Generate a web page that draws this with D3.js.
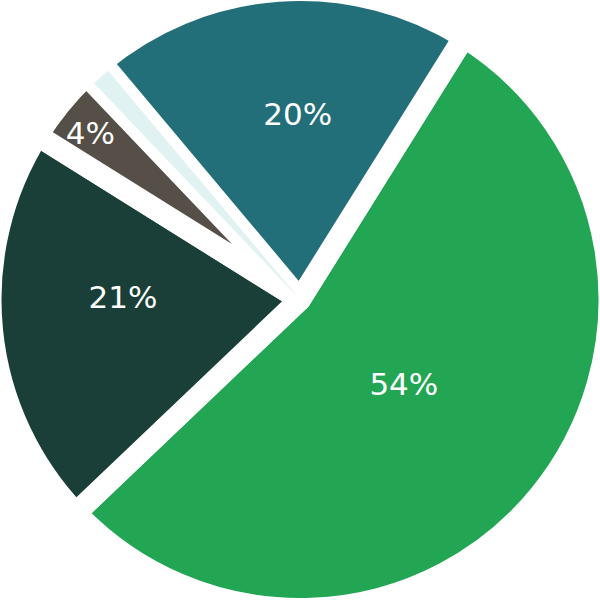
<!DOCTYPE html>
<html>
<head>
<meta charset="utf-8">
<script src="https://cdn.jsdelivr.net/npm/d3@7"></script>
<style>
  html, body { margin: 0; padding: 0; background: #fff; }
  svg { display: block; }
</style>
</head>
<body>
<script>
// slice data, clockwise from the top-right edge
var categories = ['A', 'B', 'C', 'D', 'E'];
var values = [54, 21, 4, 1, 20];
var labels = ['54%', '21%', '4%', '', '20%'];
var colors = ['#22a654', '#193f38', '#554f47', '#e0f2f2', '#236f79'];

// label layout: distance from centre, angular nudge in degrees
var labelRadius = [134, 177, 268, 0, 186];
var labelNudge = [0, 6.6, -0.7, 0, 3.3];

var width = 600, height = 600;
var cx = 300, cy = 299.5;
var gap = 22;            // white separator width
var radius = 298.5;      // visible radius

var svg = d3.select('body')
    .append('svg')
    .attr('width', width)
    .attr('height', height);

var g = svg.append('g')
    .attr('transform', 'translate(' + cx + ',' + cy + ')');

var pie = d3.pie()
    .sort(null)
    .value(function (d) { return d; })
    .startAngle(32 * Math.PI / 180)
    .endAngle(392 * Math.PI / 180);

var arcs = pie(values);

var arc = d3.arc()
    .innerRadius(0)
    .outerRadius(radius + gap / 2);

var arcThin = d3.arc()
    .innerRadius(0)
    .outerRadius(radius);

// the big slices get a thick white outline, the 1% slice sits on top without one
var big = arcs.filter(function (d) { return d.value > 1; });
var tiny = arcs.filter(function (d) { return d.value <= 1; });

g.selectAll('path.big')
    .data(big)
    .enter()
    .append('path')
        .attr('class', 'big')
        .attr('d', arc)
        .attr('fill', function (d) { return colors[d.index]; })
        .attr('stroke', '#fff')
        .attr('stroke-width', gap)
        .attr('stroke-linejoin', 'round');

g.selectAll('path.tiny')
    .data(tiny)
    .enter()
    .append('path')
        .attr('class', 'tiny')
        .attr('d', arcThin)
        .attr('fill', function (d) { return colors[d.index]; });

g.selectAll('text')
    .data(arcs.filter(function (d) { return labels[d.index] !== ''; }))
    .enter()
    .append('text')
        .attr('transform', function (d) {
            var a = (d.startAngle + d.endAngle) / 2 + labelNudge[d.index] * Math.PI / 180;
            var r = labelRadius[d.index];
            return 'translate(' + (r * Math.sin(a)) + ',' + (-r * Math.cos(a)) + ')';
        })
        .attr('text-anchor', 'middle')
        .attr('dy', '0.36em')
        .attr('fill', '#fff')
        .attr('font-family', 'DejaVu Sans, sans-serif')
        .attr('font-size', 31)
        .text(function (d) { return labels[d.index]; });
</script>
</body>
</html>
